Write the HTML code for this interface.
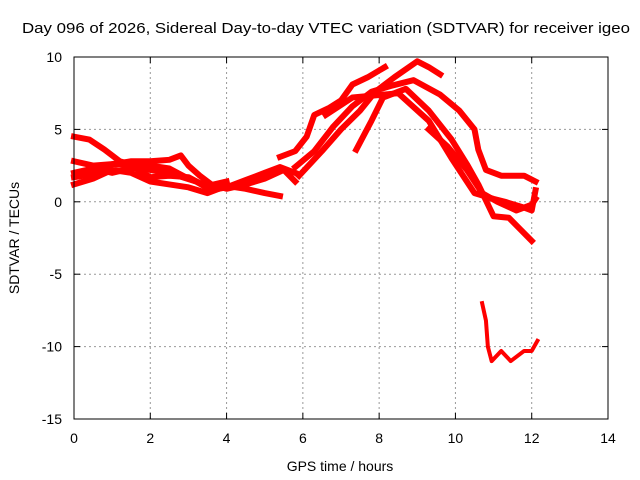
<!DOCTYPE html>
<html><head><meta charset="utf-8"><style>
html,body{margin:0;padding:0;background:#fff}
svg{display:block;font-family:"Liberation Sans",sans-serif}
</style></head><body>
<svg id="chart" width="640" height="480">
<text x="22" y="33" font-size="15" textLength="608" lengthAdjust="spacingAndGlyphs">Day 096 of 2026, Sidereal Day-to-day VTEC variation (SDTVAR) for receiver igeo</text>
<text x="340" y="471" text-anchor="middle" font-size="14">GPS time / hours</text>
<text transform="translate(19,238) rotate(-90)" text-anchor="middle" font-size="14">SDTVAR / TECUs</text>
<g id="grid"></g><g id="series"></g>
<rect x="74" y="57" width="534" height="362" fill="none" stroke="#000" stroke-width="1"/>
</svg>
<script>
const xTicks=[0,2,4,6,8,10,12,14];
const yTicks=[-15,-10,-5,0,5,10];
const s1=[[5.4,3.1],[5.8,3.5],[6.1,4.5],[6.3,6.0],[6.7,6.5],[7.0,7.0],[7.3,8.1],[7.7,8.6],[8.15,9.3]];
const s2=[[5.8,2.4],[6.3,3.5],[6.8,5.2],[7.3,6.6],[7.8,7.6],[8.3,8.0],[8.9,8.4],[9.6,7.4],[10.1,6.3],[10.5,5.0],[10.6,3.6],[10.8,2.2],[11.2,1.8],[11.8,1.8],[12.1,1.4]];
const s3=[[5.9,1.8],[6.5,3.5],[7.0,5.0],[7.5,6.3],[7.9,7.6],[8.4,8.6],[9.0,9.7],[9.3,9.3],[9.6,8.8]];
const s4=[[7.4,3.6],[7.8,5.6],[8.1,7.2],[8.7,7.8],[9.3,6.3],[9.9,4.3],[10.3,2.6],[10.6,1.2],[11.0,-1.0],[11.4,-1.1],[11.7,-1.9],[12.0,-2.7]];
const s5=[[6.6,6.0],[7.3,7.2],[8.5,7.5],[9.3,5.6],[9.9,3.0],[10.5,0.6],[11.0,0.2],[11.3,0.0],[11.8,-0.4],[12.0,-0.6],[12.1,0.8]];
const s6=[[0,4.5],[0.4,4.3],[0.8,3.6],[1.2,2.8],[2.0,2.2],[2.6,1.9],[3.2,1.4],[3.6,0.8],[4.0,1.0],[4.5,1.5],[5.0,2.0],[5.4,2.4],[5.8,2.0]];
const s7=[[0,2.8],[0.5,2.5],[1.0,2.6],[1.5,2.8],[2.0,2.8],[2.5,2.9],[2.8,3.2],[3.0,2.5],[3.3,1.8],[3.6,1.2],[4.0,0.9],[4.5,1.2],[5.0,1.6],[5.5,2.2],[5.8,1.4]];
const s8=[[0,1.2],[0.5,1.6],[1.0,2.2],[1.5,2.0],[2.0,1.4],[2.5,1.2],[3.0,1.0],[3.5,0.6],[4.0,1.1],[4.5,0.9],[5.0,0.6],[5.4,0.4]];
const s9=[[0,2.0],[0.5,2.3],[1.0,2.0],[1.5,2.3],[2.0,2.5],[2.5,2.3],[3.0,1.6],[3.5,1.1],[4.0,1.4]];
const s10=[[0,1.7],[0.5,1.9],[1.0,2.6],[1.5,2.5],[2.0,1.7],[2.5,1.8],[3.0,1.7],[3.5,1.0]];
const s11=[[9.3,5.0],[9.8,3.8],[10.3,2.2],[10.7,0.6],[11.1,0.0],[11.6,-0.6],[12.0,-0.2],[12.1,0.2]];
const s12=[[10.7,-7.0],[10.8,-8.2],[10.85,-10.0],[10.95,-11.0],[11.2,-10.3],[11.45,-11.0],[11.8,-10.3],[12.0,-10.3],[12.15,-9.6]];
const allSeries=[s1,s2,s3,s4,s5,s6,s7,s8,s9,s10,s11,s12];
const X=h=>74+h*534/14, Y=v=>57+(10-v)*362/25;
const NS="http://www.w3.org/2000/svg";
const g=document.getElementById('grid'), sg=document.getElementById('series');
function mk(p,tag,a){const e=document.createElementNS(NS,tag);for(const k in a)e.setAttribute(k,a[k]);p.appendChild(e);return e;}
xTicks.forEach(t=>{const x=X(t);
 if(t>0&&t<14){const l=mk(g,'line',{x1:x,x2:x,y1:57,y2:419,stroke:'#999','stroke-dasharray':'2,3'});
 
 }
 mk(g,'line',{x1:x,x2:x,y1:419,y2:413,stroke:'#000'});mk(g,'line',{x1:x,x2:x,y1:57,y2:63,stroke:'#000'});
 const tx=mk(g,'text',{x:x,y:443,'text-anchor':'middle','font-size':14});tx.textContent=t;
 
 });
yTicks.forEach(t=>{const y=Y(t);
 if(t>-15&&t<10){const l=mk(g,'line',{x1:74,x2:608,y1:y,y2:y,stroke:'#999','stroke-dasharray':'2,3'});
 
 }
 mk(g,'line',{x1:74,x2:80,y1:y,y2:y,stroke:'#000'});mk(g,'line',{x1:608,x2:602,y1:y,y2:y,stroke:'#000'});
 const tx=mk(g,'text',{x:62,y:y+5,'text-anchor':'end','font-size':14});tx.textContent=t;
 
 });
allSeries.forEach((s,i)=>{const thin=i===allSeries.length-1;
 const p=mk(sg,'polyline',{points:s.map(d=>X(d[0])+','+Y(d[1])).join(' '),fill:'none',stroke:'#f00','stroke-width':thin?4:6,'stroke-linejoin':'round','stroke-linecap':'square'});
 
 });
</script>
</body></html>
